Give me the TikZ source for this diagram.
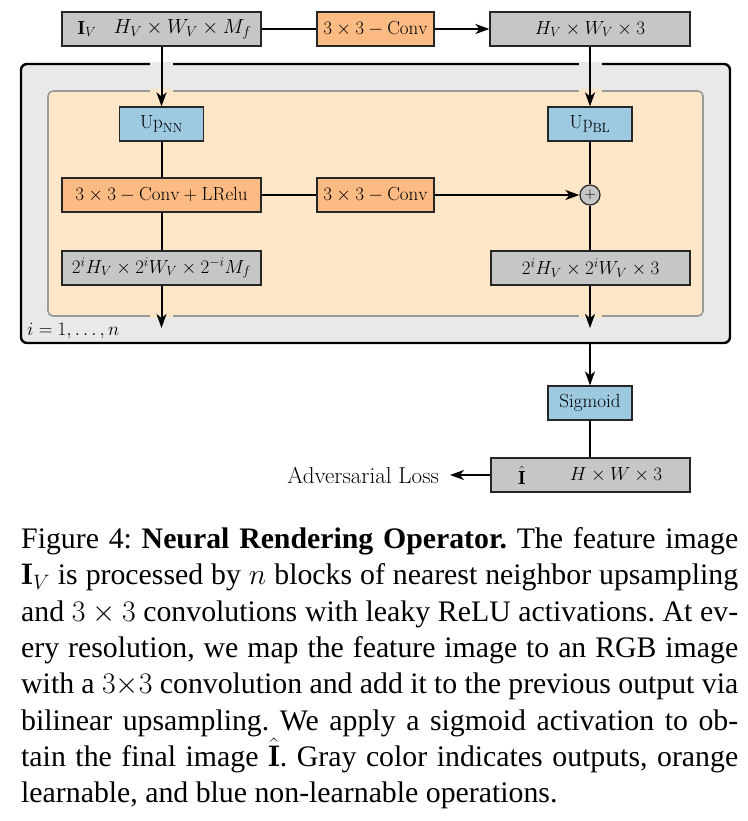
\RequirePackage{fix-cm}
\documentclass[tikz,border=0pt]{standalone}
\usepackage{fontspec}
\newfontfamily\capfont{Liberation Serif}
\usetikzlibrary{arrows.meta}
\definecolor{boxgray}{HTML}{C6C6C6}
\definecolor{boxorange}{HTML}{FDBB84}
\definecolor{boxblue}{HTML}{9ECAE1}
\definecolor{innerfill}{HTML}{FEE6C8}
\definecolor{outerfill}{HTML}{E9E9E9}
\definecolor{innerborder}{HTML}{9A9A9A}
\newcommand\capline[1]{\hbox to 717pt{\frenchspacing\spaceskip=0.25em plus 1fill minus 0.12em\xspaceskip=\spaceskip\relax #1}}
\tikzset{
  blk/.style={draw=black!85, line width=1.2pt, minimum height=34pt, inner sep=0pt},
  graybox/.style={blk, fill=boxgray},
  orbox/.style={blk, fill=boxorange},
  bluebox/.style={blk, fill=boxblue},
  conn/.style={line width=2pt, draw=black},
  arr/.style={conn, -{Stealth[length=14pt,width=10pt,inset=4pt]}},
  captext/.style={anchor=base west, inner sep=0pt, font=\capfont\fontsize{29.8}{36}\selectfont},
}
\begin{document}
\begin{tikzpicture}[x=1pt,y=-1pt,font=\fontsize{19}{23}\selectfont]
\useasboundingbox (0,0) rectangle (747,821);
% containers
\draw[fill=outerfill, line width=2.4pt, rounded corners=6pt] (21,64) rectangle (730,343);
\draw[fill=innerfill, draw=innerborder, line width=1.6pt, rounded corners=5pt] (48,91) rectangle (703,316);
% gaps where arrows cross the borders
\fill[outerfill] (150,62) rectangle (173,67);
\fill[outerfill] (578.5,62) rectangle (601.5,67);
\fill[innerfill] (150,89.5) rectangle (173,93);
\fill[innerfill] (578.5,89.5) rectangle (601.5,93);
\fill[innerfill] (150,314) rectangle (173,318);
\fill[innerfill] (578.5,314) rectangle (601.5,318);
% top row
\node[graybox, minimum width=199pt] (iv) at (161.5,29) {};
\node (ivl) at (87,29) {$\mathbf{I}_V$};
\node[font=\fontsize{20.5}{24}\selectfont] (ivr) at (182.5,29) {$H_V\times W_V\times M_f$};
\node[orbox, minimum width=117pt] (conv0) at (375.5,29) {$3\times3-\mathrm{Conv}$};
\node[graybox, minimum width=200pt] (hv3) at (590,29) {$H_V\times W_V\times 3$};
% inner block
\node[bluebox, minimum width=84pt] (upnn) at (161.5,124) {$\mathrm{Up}_{\mathrm{NN}}$};
\node[bluebox, minimum width=84pt] (upbl) at (590,124) {$\mathrm{Up}_{\mathrm{BL}}$};
\node[orbox, minimum width=199pt] (convlr) at (161.5,195) {$3\times3-\mathrm{Conv}+\mathrm{LRelu}$};
\node[orbox, minimum width=117pt] (conv1) at (375.5,195) {$3\times3-\mathrm{Conv}$};
\node[circle, draw=black!85, line width=1.2pt, fill=boxgray, minimum size=20pt, inner sep=0pt, font=\fontsize{15}{17}\selectfont] (plus) at (590,195) {$+$};
\node[graybox, minimum width=199pt] (outl) at (161.5,268) {$2^iH_V\times 2^iW_V\times 2^{-i}M_f$};
\node[graybox, minimum width=199pt] (outr) at (590.5,268) {$2^iH_V\times 2^iW_V\times 3$};
\node[anchor=base west, inner sep=0pt] (ilabel) at (27,335) {$i=1,\ldots,n$};
\coordinate (endl) at (161.5,328);
\coordinate (endr) at (590,328);
\coordinate (obot) at (590,343);
% bottom
\node[bluebox, minimum width=84pt] (sig) at (590,403) {Sigmoid};
\node[graybox, minimum width=199pt] (final) at (590.5,475) {};
\node (fl) at (522,475) {$\hat{\mathbf{I}}$};
\node (fr) at (616,475) {$H\times W\times 3$};
\node[anchor=east, inner sep=0pt, inner xsep=11pt, font=\fontsize{23}{27}\selectfont] (adv) at (450,475) {Adversarial Loss};
% connectors
\draw[arr] (iv.south -| upnn) -- (upnn.north);
\draw[conn] (iv.east) -- (conv0.west);
\draw[arr] (conv0.east) -- (hv3.west);
\draw[arr] (hv3.south) -- (upbl.north);
\draw[conn] (upnn.south) -- (convlr.north);
\draw[conn] (convlr.east) -- (conv1.west);
\draw[arr] (conv1.east) -- (plus.west);
\draw[conn] (upbl.south) -- (plus.north);
\draw[conn] (plus.south) -- (plus |- outr.north);
\draw[conn] (convlr.south) -- (outl.north);
\draw[arr] (outl.south) -- (endl);
\draw[arr] (outr.south -| endr) -- (endr);
\draw[arr] (obot) -- (sig.north);
\draw[conn] (sig.south) -- (sig |- final.north);
\draw[arr] (final.west) -- (adv.east);
% caption
\node[captext] (c1) at (21,548.5) {\capline{Figure 4: \textbf{Neural Rendering Operator.} The feature image}};
\node[captext] (c2) at (21,584.8) {\capline{$\mathbf{I}_V$ is processed by $n$ blocks of nearest neighbor upsampling}};
\node[captext] (c3) at (21,621.1) {\capline{and $3\times3$ convolutions with leaky ReLU activations. At ev-}};
\node[captext] (c4) at (21,657.4) {\capline{ery resolution, we map the feature image to an RGB image}};
\node[captext] (c5) at (21,693.7) {\capline{with a $3{\times}3$ convolution and add it to the previous output via}};
\node[captext] (c6) at (21,730) {\capline{bilinear upsampling. We apply a sigmoid activation to ob-}};
\node[captext] (c7) at (21,766.3) {\capline{tain the final image $\hat{\mathbf{I}}$. Gray color indicates outputs, orange}};
\node[captext] (c8) at (21,802.6) {learnable, and blue non-learnable operations.};
\end{tikzpicture}
\end{document}
